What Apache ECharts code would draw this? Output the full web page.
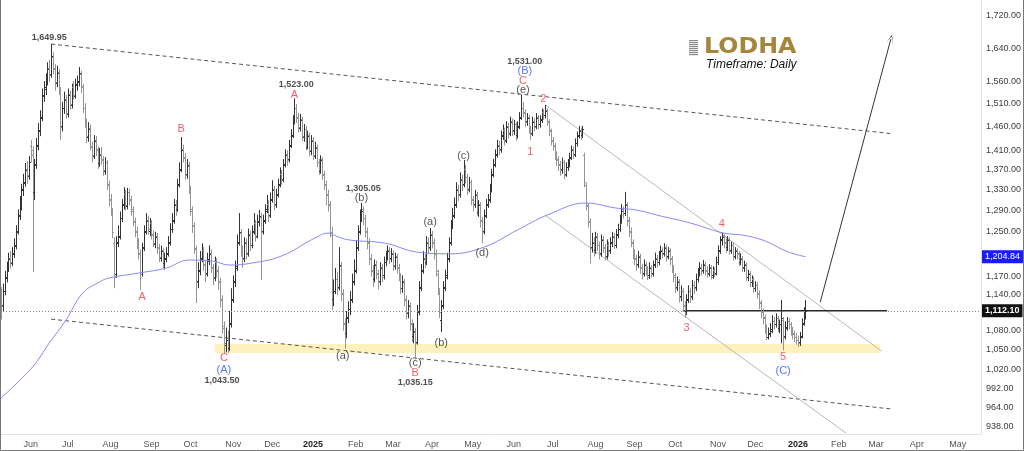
<!DOCTYPE html>
<html>
<head>
<meta charset="utf-8">
<script src="https://cdn.jsdelivr.net/npm/echarts@6/dist/echarts.min.js"></script>
<style>
html, body { margin: 0; padding: 0; background: #fff; }
#chart { width: 1024px; height: 451px; }
</style>
</head>
<body>
<div id="chart"></div>
<script>
// trading calendar: weekdays from 10 May 2024, 528 slots (data + future space)
const firstDay = [2024, 4, 10];
const slotCount = 528;

// daily OHLC, one value per weekday from 10 May 2024 to 7 Jan 2026
const opens = [
  1140,1122,1146,1168,1187,1202,1193,1212,1224,1252,
  1282,1298,1332,1344,1372,1358,1420,1410,1325,1382,
  1422,1452,1482,1528,1548,1562,1592,1578,1618,1592,
  1558,1582,1540,1462,1502,1522,1488,1532,1508,1548,
  1528,1552,1562,1578,1548,1502,1468,1438,1458,1418,
  1398,1432,1412,1384,1402,1392,1368,1386,1342,1312,
  1288,1230,1175,1232,1242,1276,1302,1322,1298,1326,
  1312,1292,1268,1252,1232,1212,1178,1222,1252,1272,
  1252,1266,1246,1228,1242,1222,1203,1216,1193,1202,
  1212,1232,1256,1272,1302,1292,1342,1372,1412,1396,
  1362,1378,1332,1292,1262,1218,1162,1182,1202,1216,
  1192,1176,1198,1212,1186,1168,1196,1182,1162,1132,
  1088,1058,1068,1052,1092,1132,1162,1188,1232,1248,
  1216,1202,1232,1212,1246,1226,1252,1266,1242,1268,
  1278,1252,1272,1292,1302,1282,1312,1332,1302,1322,
  1342,1362,1352,1382,1402,1392,1422,1442,1472,1502,
  1482,1458,1476,1438,1456,1418,1442,1408,1432,1398,
  1416,1386,1368,1392,1362,1342,1322,1302,1245,1132,
  1146,1166,1152,1188,1142,1092,1076,1102,1116,1132,
  1162,1182,1222,1252,1282,1292,1276,1252,1232,1202,
  1182,1166,1192,1176,1162,1186,1172,1196,1206,1216,
  1202,1212,1188,1206,1186,1172,1150,1162,1132,1108,
  1122,1092,1072,1078,1062,1112,1152,1182,1202,1196,
  1232,1222,1246,1232,1212,1175,1140,1098,1122,1152,
  1172,1202,1232,1262,1282,1302,1332,1322,1352,1342,
  1372,1356,1332,1346,1312,1302,1322,1288,1302,1272,
  1252,1282,1302,1312,1332,1362,1382,1402,1422,1412,
  1442,1452,1432,1462,1446,1472,1452,1466,1442,1462,
  1482,1502,1492,1472,1482,1456,1446,1472,1462,1482,
  1466,1476,1492,1486,1496,1472,1452,1432,1422,1402,
  1392,1382,1372,1386,1362,1376,1382,1396,1412,1402,
  1426,1442,1452,1442,1400,1340,1298,1268,1222,1232,
  1216,1242,1226,1212,1236,1222,1206,1226,1216,1232,
  1242,1226,1246,1256,1272,1292,1286,1302,1272,1252,
  1232,1212,1202,1192,1206,1186,1176,1192,1182,1172,
  1186,1176,1192,1202,1196,1206,1216,1212,1222,1206,
  1216,1202,1186,1172,1152,1162,1136,1146,1122,1112,
  1132,1146,1136,1156,1152,1166,1176,1186,1182,1192,
  1182,1176,1186,1172,1182,1176,1196,1216,1236,1242,
  1232,1222,1236,1216,1226,1206,1216,1212,1196,1202,
  1186,1192,1170,1176,1160,1166,1150,1156,1142,1126,
  1112,1102,1086,1070,1076,1082,1096,1090,1100,1084,
  1090,1098,1072,1086,1096,1090,1082,1076,1070,1066,
  1062,1072,1092,1106
];
const highs = [
  1152,1158,1180,1196,1212,1215,1222,1238,1262,1292,
  1318,1342,1362,1384,1388,1398,1432,1418,1392,1436,
  1468,1496,1545,1562,1580,1606,1612,1649.95,1630,1602,
  1598,1590,1548,1515,1538,1530,1545,1540,1556,1562,
  1568,1575,1595,1586,1555,1512,1478,1470,1465,1428,
  1442,1440,1418,1415,1417,1398,1396,1390,1348,1322,
  1295,1240,1242,1262,1288,1312,1335,1330,1334,1332,
  1318,1298,1276,1260,1238,1218,1230,1262,1285,1280,
  1276,1272,1252,1250,1248,1228,1225,1220,1212,1222,
  1242,1266,1285,1312,1310,1352,1385,1438,1422,1404,
  1392,1386,1338,1298,1268,1225,1195,1215,1229,1222,
  1198,1212,1225,1218,1192,1205,1202,1188,1168,1138,
  1095,1085,1080,1112,1150,1172,1198,1245,1285,1255,
  1225,1240,1238,1256,1252,1262,1285,1272,1282,1291,
  1285,1282,1302,1320,1310,1325,1349,1338,1332,1352,
  1375,1370,1392,1412,1410,1432,1455,1485,1523,1510,
  1490,1488,1482,1466,1462,1452,1448,1442,1438,1428,
  1422,1392,1400,1396,1368,1348,1330,1308,1259,1165,
  1185,1178,1222,1195,1148,1100,1112,1128,1145,1175,
  1200,1235,1262,1292,1305.05,1298,1282,1258,1238,1210,
  1190,1200,1198,1182,1195,1192,1205,1215,1225,1222,
  1220,1216,1212,1210,1192,1176,1172,1166,1138,1130,
  1126,1098,1092,1084,1122,1162,1192,1215,1210,1242,
  1240,1257,1252,1238,1218,1182,1148,1130,1162,1182,
  1212,1240,1272,1295,1315,1345,1340,1365,1360,1390,
  1380,1362,1356,1350,1318,1330,1326,1310,1306,1278,
  1292,1312,1322,1342,1372,1392,1412,1432,1430,1452,
  1465,1458,1472,1468,1482,1478,1475,1470,1472,1492,
  1531,1515,1498,1490,1486,1462,1482,1478,1490,1486,
  1485,1500,1498,1508,1500,1476,1456,1438,1426,1408,
  1398,1388,1395,1390,1385,1392,1405,1420,1418,1435,
  1450,1462,1458,1462,1405,1344,1304,1275,1248,1240,
  1250,1248,1232,1245,1242,1228,1236,1232,1240,1250,
  1248,1255,1265,1282,1302,1298,1326,1306,1278,1258,
  1236,1218,1208,1215,1210,1192,1200,1196,1188,1195,
  1190,1198,1212,1208,1215,1225,1222,1229,1226,1222,
  1220,1206,1190,1176,1170,1166,1155,1150,1128,1140,
  1155,1150,1164,1162,1175,1185,1195,1192,1199,1196,
  1188,1192,1190,1188,1186,1205,1225,1242,1248,1246,
  1238,1242,1240,1232,1230,1222,1220,1215,1211,1206,
  1198,1195,1182,1180,1172,1170,1162,1160,1146,1130,
  1116,1106,1090,1085,1092,1105,1102,1108,1104,1098,
  1130,1102,1095,1102,1100,1094,1086,1080,1076,1072,
  1078,1100,1118,1130
];
const lows = [
  1098,1112,1138,1160,1178,1184,1188,1203,1218,1245,
  1272,1290,1318,1336,1342,1350,1385,1178,1310,1372,
  1410,1440,1472,1515,1530,1552,1560,1570,1578,1540,
  1548,1530,1432,1450,1488,1478,1480,1498,1500,1520,
  1522,1540,1550,1535,1490,1458,1425,1428,1410,1385,
  1392,1398,1372,1376,1380,1358,1360,1330,1298,1280,
  1238,1150,1168,1222,1236,1268,1292,1290,1292,1300,
  1280,1260,1240,1218,1200,1147,1170,1215,1245,1245,
  1242,1236,1222,1220,1210,1195,1196,1185,1182,1195,
  1205,1225,1248,1265,1280,1288,1335,1365,1385,1350,
  1352,1322,1280,1248,1210,1125,1150,1172,1195,1180,
  1160,1170,1190,1176,1155,1162,1168,1147,1118,1075,
  1043.5,1046,1045,1048,1085,1125,1152,1180,1225,1205,
  1185,1195,1200,1205,1215,1220,1245,1232,1238,1260,
  1164,1245,1265,1285,1268,1276,1305,1290,1295,1315,
  1335,1340,1345,1375,1378,1385,1415,1436,1465,1468,
  1448,1450,1430,1428,1410,1412,1398,1400,1390,1392,
  1375,1360,1362,1350,1330,1300,1288,1240,1113,1120,
  1140,1138,1146,1128,1080,1052,1068,1092,1105,1125,
  1155,1175,1215,1245,1268,1262,1240,1218,1190,1170,
  1152,1160,1165,1148,1155,1160,1165,1188,1198,1192,
  1195,1180,1182,1175,1162,1140,1142,1120,1098,1100,
  1080,1062,1060,1035.15,1058,1105,1145,1175,1185,1190,
  1210,1215,1220,1200,1170,1140,1100,1078,1115,1145,
  1165,1195,1225,1255,1275,1295,1308,1315,1328,1335,
  1342,1320,1325,1300,1288,1295,1280,1278,1258,1229,
  1245,1275,1295,1305,1325,1355,1375,1395,1400,1405,
  1432,1420,1425,1435,1440,1440,1442,1430,1435,1455,
  1475,1480,1460,1462,1445,1432,1440,1450,1455,1455,
  1458,1468,1475,1478,1462,1440,1420,1410,1390,1378,
  1368,1358,1362,1352,1356,1368,1375,1390,1392,1396,
  1418,1435,1432,1436,1335,1290,1258,1193,1212,1205,
  1210,1215,1200,1205,1212,1198,1200,1205,1210,1222,
  1218,1220,1238,1250,1265,1275,1280,1260,1240,1222,
  1200,1190,1180,1185,1175,1165,1170,1172,1164,1166,
  1168,1170,1185,1186,1190,1200,1202,1205,1196,1200,
  1190,1176,1160,1142,1145,1126,1128,1112,1101,1105,
  1125,1125,1130,1140,1145,1160,1170,1172,1175,1172,
  1168,1170,1165,1166,1169,1172,1190,1210,1225,1220,
  1212,1215,1208,1210,1198,1200,1200,1188,1190,1178,
  1178,1162,1162,1152,1152,1142,1144,1132,1115,1100,
  1090,1075,1065,1066,1070,1076,1082,1085,1078,1076,
  1060,1049,1066,1080,1082,1072,1066,1062,1058,1054,
  1056,1068,1088,1098
];
const closes = [
  1120,1145,1170,1185,1200,1195,1210,1225,1250,1280,
  1300,1330,1345,1370,1360,1385,1400,1320,1380,1420,
  1450,1480,1530,1545,1560,1590,1575,1620,1590,1560,
  1580,1545,1460,1500,1520,1490,1530,1510,1545,1530,
  1555,1560,1580,1550,1500,1470,1440,1455,1420,1400,
  1430,1410,1385,1400,1390,1370,1385,1340,1310,1290,
  1250,1170,1230,1240,1275,1300,1320,1300,1325,1310,
  1290,1270,1250,1230,1210,1175,1220,1250,1270,1255,
  1265,1245,1230,1240,1220,1205,1215,1195,1200,1210,
  1230,1255,1270,1300,1290,1340,1370,1410,1395,1360,
  1380,1330,1290,1260,1220,1160,1180,1200,1215,1190,
  1175,1200,1210,1185,1170,1195,1180,1160,1130,1085,
  1060,1065,1050,1090,1130,1160,1185,1230,1250,1215,
  1200,1230,1210,1245,1225,1250,1265,1240,1270,1280,
  1250,1270,1290,1300,1280,1310,1330,1300,1320,1340,
  1360,1350,1380,1400,1390,1420,1440,1470,1500,1480,
  1460,1475,1440,1455,1420,1440,1410,1430,1400,1415,
  1385,1370,1390,1360,1340,1320,1300,1250,1130,1145,
  1165,1150,1190,1140,1090,1075,1100,1115,1130,1160,
  1180,1220,1250,1280,1290,1275,1250,1230,1200,1180,
  1165,1190,1175,1160,1185,1170,1195,1205,1215,1200,
  1210,1190,1205,1185,1170,1150,1160,1130,1110,1120,
  1090,1075,1080,1060,1110,1150,1180,1200,1195,1230,
  1220,1245,1230,1210,1180,1150,1110,1120,1150,1170,
  1200,1230,1260,1280,1300,1330,1320,1350,1340,1370,
  1355,1330,1345,1310,1300,1320,1290,1300,1270,1250,
  1280,1300,1310,1330,1360,1380,1400,1420,1410,1440,
  1450,1430,1460,1445,1470,1450,1465,1440,1460,1480,
  1500,1490,1470,1480,1455,1445,1470,1460,1480,1465,
  1475,1490,1485,1495,1470,1450,1430,1420,1400,1390,
  1380,1370,1385,1360,1375,1380,1395,1410,1400,1425,
  1440,1450,1440,1455,1345,1300,1270,1220,1230,1215,
  1240,1225,1210,1235,1220,1205,1225,1215,1230,1240,
  1225,1245,1255,1270,1290,1285,1300,1270,1250,1230,
  1210,1200,1190,1205,1185,1175,1190,1180,1170,1185,
  1175,1190,1200,1195,1205,1215,1210,1220,1205,1215,
  1200,1185,1170,1150,1160,1135,1145,1120,1110,1130,
  1145,1135,1155,1150,1165,1175,1185,1180,1190,1180,
  1175,1185,1170,1180,1175,1195,1215,1235,1240,1230,
  1220,1235,1215,1225,1205,1215,1210,1195,1200,1185,
  1190,1170,1175,1160,1165,1150,1155,1140,1125,1110,
  1100,1085,1070,1075,1080,1095,1090,1100,1085,1090,
  1100,1070,1085,1095,1090,1080,1075,1070,1065,1060,
  1070,1090,1105,1112.1
];

// moving average read at sampled slots
const maSlots  = [0, 17, 26, 35, 44, 53, 58, 74, 89, 101, 114, 123, 135, 151, 169, 176, 182, 188, 207, 224, 242, 260, 278, 294, 315, 331, 342, 353, 371, 389, 399, 410, 424, 433];
const maValues = [977.6, 1023.5, 1060.5, 1097, 1141.8, 1160.5, 1167.4, 1176, 1184.8, 1198.9, 1197, 1190, 1193.5, 1206, 1238.5, 1247.7, 1240, 1234.8, 1229, 1213, 1210, 1222, 1253.3, 1281.3, 1304.4, 1294.7, 1291, 1281.3, 1266.4, 1247.7, 1244, 1234.8, 1213, 1204.84];
const lastPrice = 1112.10;
const lastMa = 1204.84;

// drawn lines: [slot, price] end points
const outerTop    = [[27, 1649.95], [480, 1445]];
const outerBottom = [[27, 1098.6], [480, 961.7]];
const channelTop  = [[293, 1508], [474, 1047.8]];
const channelLow  = [[293, 1281], [455, 928]];
const wave3Level  = [[367, 1112.1], [477, 1112.1]];
const arrowPath   = [[441, 1126.6], [479, 1662]];
const supportZone = { from: 115, to: 473, low: 1045, high: 1059 };

// wave labels
const annText  = ['1,649.95','1,523.00','A','B','A','C','(A)','1,043.50','1,305.05','(b)','(a)','(c)','B','1,035.15','(a)','(b)','(c)','(d)','1,531.00','(B)','C','(e)','2','1','4','3','5','(C)'];
const annSlot  = [26,159,158,97,76,120,120,119,195,194,184,223,223,223,231,237,249,259,282,282,281,281,292,285,388,369,421,421];
const annPrice = [1667,1555,1530,1455,1135,1037,1019,1004,1333,1314,1040,1030,1014,1000,1268,1060,1398,1211,1607,1586,1562,1542,1521,1407,1264,1084,1039,1017];
const annKind  = ['p','p','r','r','r','r','b','p','p','k','k','k','r','p','k','k','k','k','p','b','r','k','r','r','r','r','r','b'];

const yTicks = [938, 964, 992, 1020, 1050, 1080, 1140, 1170, 1250, 1290, 1330, 1370, 1410, 1460, 1510, 1560, 1640, 1720];
const yMin = 927, yMax = 1761;

const monthNames = ['Jan','Feb','Mar','Apr','May','Jun','Jul','Aug','Sep','Oct','Nov','Dec'];

// build weekday categories
const categories = [];
const d = new Date(Date.UTC(firstDay[0], firstDay[1], firstDay[2]));
while (categories.length < slotCount) {
    const wd = d.getUTCDay();
    if (wd !== 0 && wd !== 6) categories.push(d.toISOString().slice(0, 10));
    d.setUTCDate(d.getUTCDate() + 1);
}
const monthStart = categories.map((c, i) => i > 0 && c.slice(5, 7) !== categories[i - 1].slice(5, 7));

const fmtPrice = v => Number(v).toLocaleString('en-US', { minimumFractionDigits: 2, maximumFractionDigits: 2 });

const ohlc = closes.map((c, i) => [i, opens[i], highs[i], lows[i], c]);

function renderBar(params, api) {
    const i = api.value(0);
    const pO = api.coord([i, api.value(1)]);
    const pH = api.coord([i, api.value(2)]);
    const pL = api.coord([i, api.value(3)]);
    const pC = api.coord([i, api.value(4)]);
    const x = Math.round(pH[0]) + 0.5;
    const col = api.value(4) >= api.value(1) ? '#333' : '#949494';
    const yo = Math.round(pO[1]) + 0.5, yc = Math.round(pC[1]) + 0.5;
    return {
        type: 'group',
        children: [
            { type: 'line', shape: { x1: x, y1: pH[1], x2: x, y2: pL[1] }, style: { stroke: col, lineWidth: 1 } },
            { type: 'line', shape: { x1: x - 1.5, y1: yo, x2: x, y2: yo }, style: { stroke: col, lineWidth: 1 } },
            { type: 'line', shape: { x1: x, y1: yc, x2: x + 1.5, y2: yc }, style: { stroke: col, lineWidth: 1 } }
        ]
    };
}

const annStyle = {
    p: { color: '#222', fontSize: 9, fontWeight: 600 },
    r: { color: '#f23645', fontSize: 11 },
    b: { color: '#2f54f0', fontSize: 11 },
    k: { color: '#2a2a2a', fontSize: 11 }
};

function lineSeries(points, style, z, extra) {
    return Object.assign({
        type: 'line', data: points, z: z, silent: true, symbol: 'none',
        lineStyle: style, animation: false
    }, extra || {});
}

const chart = echarts.init(document.getElementById('chart'));
chart.setOption({
    animation: false,
    textStyle: { fontFamily: 'Liberation Sans, Arial, sans-serif' },
    grid: { left: 0, right: 38, top: 0, bottom: 17 },
    xAxis: {
        type: 'category',
        data: categories,
        boundaryGap: true,
        axisLine: { show: true, lineStyle: { color: '#e0e3eb' } },
        axisTick: { show: false },
        splitLine: { show: false },
        axisLabel: {
            interval: (i) => monthStart[i],
            hideOverlap: false,
            fontSize: 9,
            color: '#555',
            margin: 6,
            formatter: (v) => {
                const m = +v.slice(5, 7) - 1;
                return m === 0 ? '{y|' + v.slice(0, 4) + '}' : monthNames[m];
            },
            rich: { y: { fontWeight: 'bold', color: '#222', fontSize: 9 } }
        }
    },
    yAxis: {
        type: 'log',
        logBase: 10,
        min: yMin,
        max: yMax,
        position: 'right',
        axisLine: { show: true, lineStyle: { color: '#e0e3eb' } },
        axisTick: { show: false },
        splitLine: { show: false },
        axisLabel: {
            customValues: yTicks,
            formatter: v => fmtPrice(Math.round(v)),
            fontSize: 9,
            color: '#3c3c3c',
            margin: 5
        }
    },
    series: [
        lineSeries(outerBottom, { color: '#555', width: 1, type: [4, 3] }, 1, {
            markArea: {
                silent: true,
                itemStyle: { color: '#fdf2bd' },
                data: [[
                    { xAxis: categories[supportZone.from], yAxis: supportZone.low },
                    { xAxis: categories[supportZone.to], yAxis: supportZone.high }
                ]]
            }
        }),
        lineSeries(outerTop, { color: '#555', width: 1, type: [4, 3] }, 2),
        lineSeries(channelTop, { color: '#b8b8b8', width: 1 }, 2, {
            markLine: {
                silent: true,
                symbol: ['none', 'path://M0,10 L5,0 L10,10 L5,2 Z'],
                symbolSize: [7, 9],
                label: { show: false },
                lineStyle: { color: '#333', width: 1, type: 'solid', curveness: 0.03 },
                data: [[
                    { coord: [categories[arrowPath[0][0]], arrowPath[0][1]] },
                    { coord: [categories[arrowPath[1][0]], arrowPath[1][1]] }
                ]]
            }
        }),
        lineSeries(channelLow, { color: '#b8b8b8', width: 1 }, 2),
        lineSeries(wave3Level, { color: '#2a2a2a', width: 1.5 }, 2),
        {
            type: 'custom',
            renderItem: renderBar,
            data: ohlc,
            encode: { x: 0, y: [1, 2, 3, 4] },
            z: 3,
            silent: true,
            animation: false
        },
        lineSeries(maSlots.map((s, i) => [s, maValues[i]]), { color: '#8888f4', width: 1 }, 4, {
            smooth: 0.4,
            markLine: {
                silent: true,
                symbol: 'none',
                data: [
                    {
                        yAxis: lastPrice,
                        lineStyle: { color: '#8a8a8a', width: 1, type: [1, 2] },
                        label: {
                            show: true, position: 'end', distance: 1, formatter: fmtPrice(lastPrice),
                            backgroundColor: '#111', color: '#fff', padding: [2, 3, 2, 3],
                            fontSize: 9, fontWeight: 'bold'
                        }
                    },
                    {
                        yAxis: lastMa,
                        lineStyle: { color: 'rgba(0,0,0,0)', width: 0 },
                        label: {
                            show: true, position: 'end', distance: 1, formatter: fmtPrice(lastMa),
                            backgroundColor: '#1b1bff', color: '#fff', padding: [2, 3, 2, 3],
                            fontSize: 9
                        }
                    }
                ]
            }
        }),
        {
            type: 'scatter',
            z: 6,
            silent: true,
            symbolSize: 1,
            itemStyle: { color: 'transparent' },
            data: annText.map((t, i) => ({
                value: [annSlot[i], annPrice[i]],
                label: Object.assign({ show: true, position: 'inside', formatter: t }, annStyle[annKind[i]])
            }))
        }
    ],
    graphic: [
        {
            type: 'group', left: 689, top: 40,
            children: [0, 2, 4, 6, 8, 10, 12, 14].map(y => ({
                type: 'rect', shape: { x: 0, y: y, width: 9, height: 1.2 }, style: { fill: '#8a8a8a' }
            }))
        },
        {
            type: 'text', left: 704, top: 36, scaleX: 1.08,
            style: { text: 'LODHA', font: 'bold 22px "DejaVu Sans"', fill: '#a4873a' }
        },
        {
            type: 'text', left: 706, top: 59,
            style: { text: 'Timeframe: Daily', font: 'italic 12px "Liberation Sans"', fill: '#111' }
        },
        {
            type: 'polyline', z: 100, silent: true,
            shape: { points: [[0.5, 0], [0.5, 450.5], [1023.5, 450.5], [1023.5, 0]] },
            style: { fill: 'none', stroke: '#777', lineWidth: 1 }
        }
    ]
});
</script>
</body>
</html>
